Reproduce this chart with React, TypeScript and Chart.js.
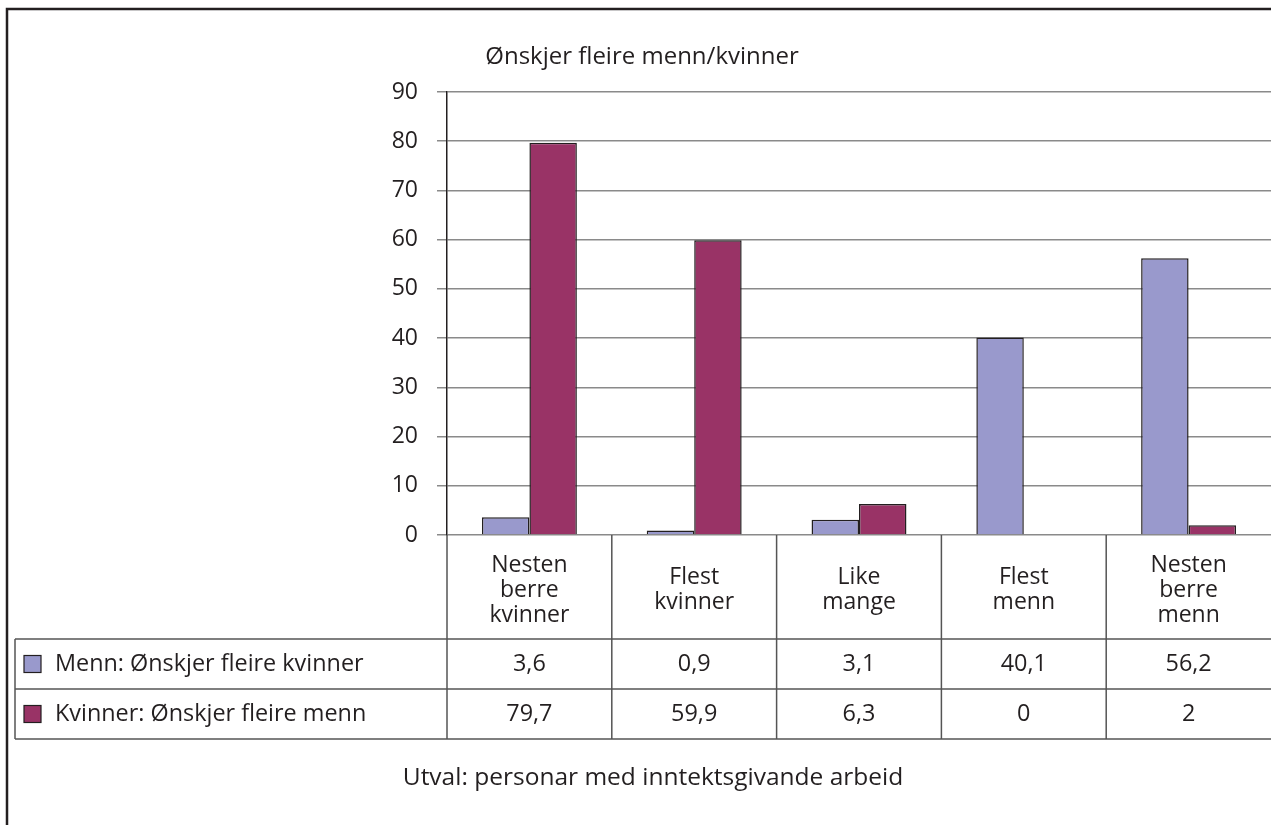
import React, { useEffect, useRef } from "react";
import { Chart, registerables } from "chart.js";

Chart.register(...registerables);

const categories: string[][] = [
  ["Nesten", "berre", "kvinner"],
  ["Flest", "kvinner"],
  ["Like", "mange"],
  ["Flest", "menn"],
  ["Nesten", "berre", "menn"],
];
const seriesNames = ["Menn: Ønskjer fleire kvinner", "Kvinner: Ønskjer fleire menn"];
const mennValues = [3.6, 0.9, 3.1, 40.1, 56.2];
const kvinnerValues = [79.7, 59.9, 6.3, 0, 2];
const yMin = 0;
const yMax = 90;
const yStep = 10;
const chartTitle = "Ønskjer fleire menn/kvinner";
const footnote = "Utval: personar med inntektsgivande arbeid";

const COLORS = ["#9999cc", "#993366"];
const TEXT = "#231f20";
const FONT = "'Open Sans', sans-serif";
const W = 1271;
const H = 825;

const fmt = (v: number) => String(v).replace(".", ",");

const tablePlugin = {
  id: "tablePlugin",
  afterDraw(chart: any) {
    const ctx = chart.ctx as CanvasRenderingContext2D;
    const area = chart.chartArea;
    const x = chart.scales.x;
    const n = categories.length;
    const bounds: number[] = [area.left];
    for (let i = 0; i < n - 1; i++) {
      bounds.push((x.getPixelForValue(i) + x.getPixelForValue(i + 1)) / 2);
    }
    bounds.push(area.right);
    const top = area.bottom;
    const row1 = 639;
    const row2 = 689;
    const row3 = 739;
    const tableLeft = 15;

    ctx.save();
    // outer frame
    ctx.strokeStyle = TEXT;
    ctx.lineWidth = 2.5;
    ctx.beginPath();
    ctx.moveTo(7, H + 5);
    ctx.lineTo(7, 9);
    ctx.lineTo(W + 5, 9);
    ctx.stroke();

    // table lines
    ctx.strokeStyle = "#555555";
    ctx.lineWidth = 1.5;
    ctx.beginPath();
    for (const b of bounds.slice(0, n)) {
      ctx.moveTo(b, top);
      ctx.lineTo(b, row3);
    }
    ctx.moveTo(tableLeft, row1);
    ctx.lineTo(tableLeft, row3);
    for (const r of [row1, row2, row3]) {
      ctx.moveTo(tableLeft, r);
      ctx.lineTo(W, r);
    }
    ctx.stroke();

    // legend keys + names + values
    const rows = [mennValues, kvinnerValues];
    const rowCenters = [(row1 + row2) / 2, (row2 + row3) / 2];
    ctx.font = `23.4px ${FONT}`;
    ctx.textBaseline = "middle";
    rows.forEach((vals, r) => {
      const cy = rowCenters[r];
      ctx.fillStyle = COLORS[r];
      ctx.fillRect(24, cy - 8.5, 17, 17);
      ctx.strokeStyle = TEXT;
      ctx.lineWidth = 1.2;
      ctx.strokeRect(24, cy - 8.5, 17, 17);
      ctx.fillStyle = TEXT;
      ctx.textAlign = "left";
      ctx.fillText(seriesNames[r], 55, cy);
      ctx.textAlign = "center";
      vals.forEach((v, i) => {
        ctx.fillText(fmt(v), (bounds[i] + bounds[i + 1]) / 2, cy);
      });
    });

    // title and footnote
    ctx.font = `24px ${FONT}`;
    ctx.textAlign = "center";
    ctx.fillText(chartTitle, 642, 57);
    ctx.font = `24.5px ${FONT}`;
    ctx.fillText(footnote, 653, 778);
    ctx.restore();
  },
};

export default function App() {
  const ref = useRef<HTMLCanvasElement | null>(null);
  useEffect(() => {
    if (!ref.current) return;
    const chart = new Chart(ref.current, {
      type: "bar",
      data: {
        labels: categories,
        datasets: [
          {
            label: seriesNames[0],
            data: mennValues,
            backgroundColor: COLORS[0],
            borderColor: TEXT,
            borderWidth: 1.5,
            categoryPercentage: 0.576,
            barPercentage: 1,
          },
          {
            label: seriesNames[1],
            data: kvinnerValues,
            backgroundColor: COLORS[1],
            borderColor: TEXT,
            borderWidth: 1.5,
            categoryPercentage: 0.576,
            barPercentage: 1,
          },
        ],
      },
      options: {
        responsive: false,
        animation: false,
        layout: { padding: { top: 92, left: 0, right: 0, bottom: 0 } },
        plugins: {
          legend: { display: false },
          title: { display: false },
          tooltip: { enabled: false },
        },
        scales: {
          x: {
            grid: { display: false, drawTicks: false },
            border: { display: false },
            ticks: {
              color: TEXT,
              font: { family: FONT, size: 23, lineHeight: 1.1 },
              padding: 30,
              crossAlign: "center",
              maxRotation: 0,
              autoSkip: false,
            },
            afterFit: (s: any) => {
              s.height = H - 535;
            },
          },
          y: {
            min: yMin,
            max: yMax,
            grid: { color: "#8a8a8a", lineWidth: 1.5, tickLength: 10 },
            border: { color: TEXT, width: 1.5 },
            ticks: {
              stepSize: yStep,
              color: TEXT,
              font: { family: FONT, size: 23 },
              padding: 19,
            },
            afterFit: (s: any) => {
              s.width = 447;
            },
          },
        },
      },
      plugins: [tablePlugin],
    });
    return () => chart.destroy();
  }, []);
  return (
    <div style={{ position: "absolute", left: 0, top: 0, width: W, height: H, background: "#fff" }}>
      <canvas ref={ref} width={W} height={H} style={{ display: "block" }} />
    </div>
  );
}
